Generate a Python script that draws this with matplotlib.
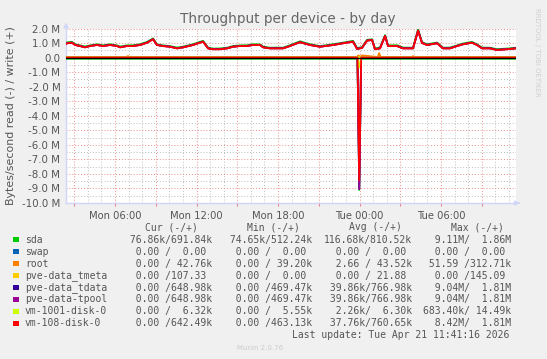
import matplotlib
matplotlib.use('Agg')
import matplotlib.pyplot as plt
from matplotlib.patches import Rectangle

# ---------------- data ----------------
# hours since Mon 00:00 (write side samples)
hours = [2.39, 2.47, 2.83, 3.06, 3.42, 3.79, 4.16, 4.67, 5.12, 5.63, 6.15, 6.37,
         6.88, 7.33, 7.84, 8.36, 8.80, 9.09, 9.53, 10.05, 10.56, 11.01, 11.74, 12.11,
         12.48, 12.85, 13.21, 13.73, 14.25, 14.69, 15.20, 15.72, 16.16, 16.68, 16.90, 17.41,
         17.93, 18.37, 18.88, 19.40, 19.62, 20.36, 21.09, 22.05, 22.79, 23.52, 23.82, 24.18,
         24.55, 24.92, 25.14, 25.51, 25.88, 26.10, 26.76, 27.20, 27.94, 28.31, 28.60, 28.97,
         29.71, 30.15, 30.66, 31.18, 31.62, 32.28, 32.65, 33.02, 33.61, 34.12, 34.86, 35.52]

# write (+) values in MB/s
sda_w = [0.98, 1.05, 1.08, 0.92, 0.84, 0.76, 0.84, 0.92, 0.84, 0.92, 0.84, 0.76,
         0.84, 0.85, 0.92, 1.08, 1.32, 0.91, 0.84, 0.79, 0.69, 0.75, 0.92, 1.04,
         1.15, 0.69, 0.62, 0.63, 0.68, 0.80, 0.84, 0.85, 0.92, 0.91, 0.76, 0.68,
         0.69, 0.68, 0.85, 1.04, 1.12, 0.92, 0.79, 0.92, 1.03, 1.15, 0.66, 0.72,
         1.22, 1.26, 0.63, 0.70, 1.55, 0.84, 0.85, 0.69, 0.68, 1.95, 1.06, 0.92,
         1.03, 0.68, 0.69, 0.84, 0.97, 1.08, 0.91, 0.69, 0.68, 0.58, 0.62, 0.68]
tpool_w = [0.94, 0.99, 1.03, 0.87, 0.80, 0.71, 0.80, 0.87, 0.80, 0.87, 0.80, 0.71,
           0.80, 0.80, 0.87, 1.03, 1.27, 0.87, 0.80, 0.75, 0.64, 0.71, 0.87, 0.99,
           1.10, 0.64, 0.58, 0.58, 0.64, 0.75, 0.80, 0.80, 0.87, 0.87, 0.71, 0.64,
           0.64, 0.64, 0.80, 0.99, 1.06, 0.87, 0.75, 0.87, 0.99, 1.10, 0.60, 0.67,
           1.17, 1.22, 0.58, 0.64, 1.49, 0.80, 0.80, 0.64, 0.64, 1.86, 1.01, 0.87,
           0.99, 0.64, 0.64, 0.80, 0.92, 1.03, 0.87, 0.64, 0.64, 0.53, 0.58, 0.64]
tdata_w = tpool_w  # identical per legend
vm108_w = [0.93, 0.98, 1.02, 0.86, 0.79, 0.70, 0.79, 0.86, 0.79, 0.86, 0.79, 0.70,
           0.79, 0.79, 0.86, 1.02, 1.26, 0.86, 0.79, 0.74, 0.63, 0.70, 0.86, 0.98,
           1.09, 0.63, 0.57, 0.57, 0.63, 0.74, 0.79, 0.79, 0.86, 0.86, 0.70, 0.63,
           0.63, 0.63, 0.79, 0.98, 1.05, 0.86, 0.74, 0.86, 0.98, 1.09, 0.59, 0.66,
           1.16, 1.21, 0.57, 0.63, 1.48, 0.79, 0.79, 0.63, 0.63, 1.85, 1.00, 0.86,
           0.98, 0.63, 0.63, 0.79, 0.91, 1.02, 0.86, 0.63, 0.63, 0.52, 0.57, 0.63]

# read (-) side samples
read_hours = [2.39, 6.0, 12.0, 18.0, 23.85, 23.98, 24.12, 30.0, 35.52]
sda_r = [-0.08, -0.08, -0.08, -0.08, -0.08, -9.11, -0.08, -0.08, -0.08]
tdata_r = [0.0, 0.0, 0.0, 0.0, 0.0, -9.04, 0.0, 0.0, 0.0]
tpool_r = [0.0, 0.0, 0.0, 0.0, 0.0, -9.04, 0.0, 0.0, 0.0]
vm108_r = [0.0, 0.0, 0.0, 0.0, 0.0, -8.42, 0.0, 0.0, 0.0]
vm1001_r = [0.0, 0.0, 0.0, 0.0, 0.0, -0.68, 0.0, 0.0, 0.0]
vm1001_w = [0.006, 0.006, 0.006, 0.006, 0.006, 0.014, 0.006, 0.006, 0.006]
zero_r = [0.0] * 9

root_hours = [2.39, 6.80, 6.96, 7.10, 23.80, 23.92, 24.05, 24.20, 25.35, 25.44, 25.55,
              27.85, 27.94, 28.05, 35.52]
root_w = [0.04, 0.04, 0.10, 0.04, 0.04, 0.15, 0.05, 0.15, 0.04, 0.31, 0.04,
          0.04, 0.10, 0.04, 0.04]
root_r = [0.0] * 15

names = ['sda', 'swap', 'root', 'pve-data_tmeta', 'pve-data_tdata', 'pve-data-tpool',
         'vm-1001-disk-0', 'vm-108-disk-0']
colors = ['#00cc00', '#0066b3', '#ff8000', '#ffcc00', '#330099', '#990099',
          '#ccff00', '#ff0000']

cur_col = [" 76.86k/691.84k", "  0.00 /  0.00 ", "  0.00 / 42.76k", "  0.00 /107.33 ",
           "  0.00 /648.98k", "  0.00 /648.98k", "  0.00 /  6.32k", "  0.00 /642.49k"]
min_col = [" 74.65k/512.24k", "  0.00 /  0.00 ", "  0.00 / 39.20k", "  0.00 /  0.00 ",
           "  0.00 /469.47k", "  0.00 /469.47k", "  0.00 /  5.55k", "  0.00 /463.13k"]
avg_col = ["116.68k/810.52k", "  0.00 /  0.00 ", "  2.66 / 43.52k", "  0.00 / 21.88 ",
           " 39.86k/766.98k", " 39.86k/766.98k", "  2.26k/  6.30k", " 37.76k/760.65k"]
max_col = ["  9.11M/  1.86M", "  0.00 /  0.00 ", " 51.59 /312.71k", "  0.00 /145.09 ",
           "  9.04M/  1.81M", "  9.04M/  1.81M", "683.40k/ 14.49k", "  8.42M/  1.81M"]
headers = ["Cur (-/+)", "Min (-/+)", "Avg (-/+)", "Max (-/+)"]

xtick_pos = [6, 12, 18, 24, 30]
xtick_labels = ["Mon 06:00", "Mon 12:00", "Mon 18:00", "Tue 00:00", "Tue 06:00"]
ytick_pos = [-10, -9, -8, -7, -6, -5, -4, -3, -2, -1, 0, 1, 2]
ytick_labels = ["-10.0 M", "-9.0 M", "-8.0 M", "-7.0 M", "-6.0 M", "-5.0 M", "-4.0 M",
                "-3.0 M", "-2.0 M", "-1.0 M", "0.0", "1.0 M", "2.0 M"]

title = "Throughput per device - by day"
ylabel = "Bytes/second read (-) / write (+)"
last_update = "Last update: Tue Apr 21 11:41:16 2026"

# ---------------- figure ----------------
W, H = 547, 359
fig = plt.figure(figsize=(W / 100, H / 100), dpi=100, facecolor='#f0f0f0')


def fx(p):
    return p / W


def fy(p):
    return 1 - p / H


ax = fig.add_axes([fx(66), fy(203), fx(516) - fx(66), fy(28.5) - fy(203)])
ax.set_facecolor('white')

FONT = '#555555'
AXIS = '#CFD6F8'

ax.set_xlim(2.39, 35.52)
ax.set_ylim(-10, 2)

# grids
ax.set_xticks([h for h in range(3, 36, 3)])
ax.set_xticklabels([xtick_labels[xtick_pos.index(h)] if h in xtick_pos else ''
                    for h in range(3, 36, 3)])
ax.set_xticks([h for h in range(3, 36)], minor=True)
ax.set_yticks(ytick_pos)
ax.set_yticklabels(ytick_labels)
ax.set_yticks([v + 0.5 for v in range(-10, 2)], minor=True)

ax.grid(which='minor', color='#bdbdbd', linestyle=(0, (1, 2)), linewidth=0.7)
ax.grid(which='major', color='#ec8c8c', linestyle=(0, (1, 2)), linewidth=0.7)
ax.set_axisbelow(True)

ax.tick_params(axis='x', which='major', length=2.5, width=0.8, color='#e88080',
               labelsize=7.2, labelcolor=FONT, pad=3)
ax.tick_params(axis='y', which='major', length=0, labelsize=7.4, labelcolor=FONT, pad=4)
ax.tick_params(which='minor', length=0)

for s in ['top', 'right']:
    ax.spines[s].set_visible(False)
for s in ['left', 'bottom']:
    ax.spines[s].set_color(AXIS)
    ax.spines[s].set_linewidth(1.0)

# arrows
ax.annotate('', xy=(0, 1.05), xytext=(0, 1.0), xycoords='axes fraction',
            arrowprops=dict(arrowstyle='-|>', color=AXIS, lw=1.0, mutation_scale=7),
            annotation_clip=False)
ax.annotate('', xy=(1.015, 0), xytext=(1.0, 0), xycoords='axes fraction',
            arrowprops=dict(arrowstyle='-|>', color=AXIS, lw=1.0, mutation_scale=7),
            annotation_clip=False)

LW = 1.3
series = [
    (hours, sda_w, read_hours, sda_r),
    (read_hours, zero_r, read_hours, zero_r),
    (root_hours, root_w, root_hours, root_r),
    (read_hours, zero_r, read_hours, zero_r),
    (hours, tdata_w, read_hours, tdata_r),
    (hours, tpool_w, read_hours, tpool_r),
    (read_hours, vm1001_w, read_hours, vm1001_r),
    (hours, vm108_w, read_hours, vm108_r),
]
for i, (hw, w, hr, r) in enumerate(series):
    ax.plot(hr, r, color=colors[i], lw=LW, zorder=3 + i * 0.1)
    ax.plot(hw, w, color=colors[i], lw=LW, zorder=3 + i * 0.1)

ax.axhline(0, color='black', lw=0.9, zorder=5)

# texts
fig.text(fx(287.5), fy(19), title, ha='center', va='center', fontsize=9.8, color='#666666')
fig.text(fx(11), fy(115.75), ylabel, ha='center', va='center', rotation=90,
         fontsize=7.9, color=FONT)
fig.text(fx(537), fy(52), "RRDTOOL / TOBI OETIKER", ha='center', va='center',
         rotation=270, fontsize=5, color='#d0d0d0')

mono = 'DejaVu Sans Mono'
MFS = 7
header_x = [145, 246.7, 349, 450.7]
for hx, htxt in zip(header_x, headers):
    fig.text(fx(hx), fy(227.5), htxt, ha='left', va='center', family=mono,
             fontsize=MFS, color=FONT)

col_x = [124.3, 224.0, 324.0, 423.3]
cols = [cur_col, min_col, avg_col, max_col]
for i, name in enumerate(names):
    yc = 239.7 + i * 11.95
    fig.add_artist(Rectangle((fx(13.3), fy(yc + 2.6)), fx(5.2), 5.2 / H,
                             transform=fig.transFigure, facecolor=colors[i],
                             edgecolor='none'))
    fig.text(fx(25), fy(yc), name, ha='left', va='center', family=mono,
             fontsize=MFS, color=FONT)
    for cx, col in zip(col_x, cols):
        fig.text(fx(cx), fy(yc), col[i], ha='left', va='center', family=mono,
                 fontsize=MFS, color=FONT)

fig.text(fx(509), fy(335), last_update, ha='right', va='center', family=mono,
         fontsize=MFS, color=FONT)
fig.text(fx(260.5), fy(348.3), "Munin 2.0.76", ha='center', va='center',
         fontsize=5, color='#cccccc')

fig.savefig('out.png', dpi=100, facecolor=fig.get_facecolor())
